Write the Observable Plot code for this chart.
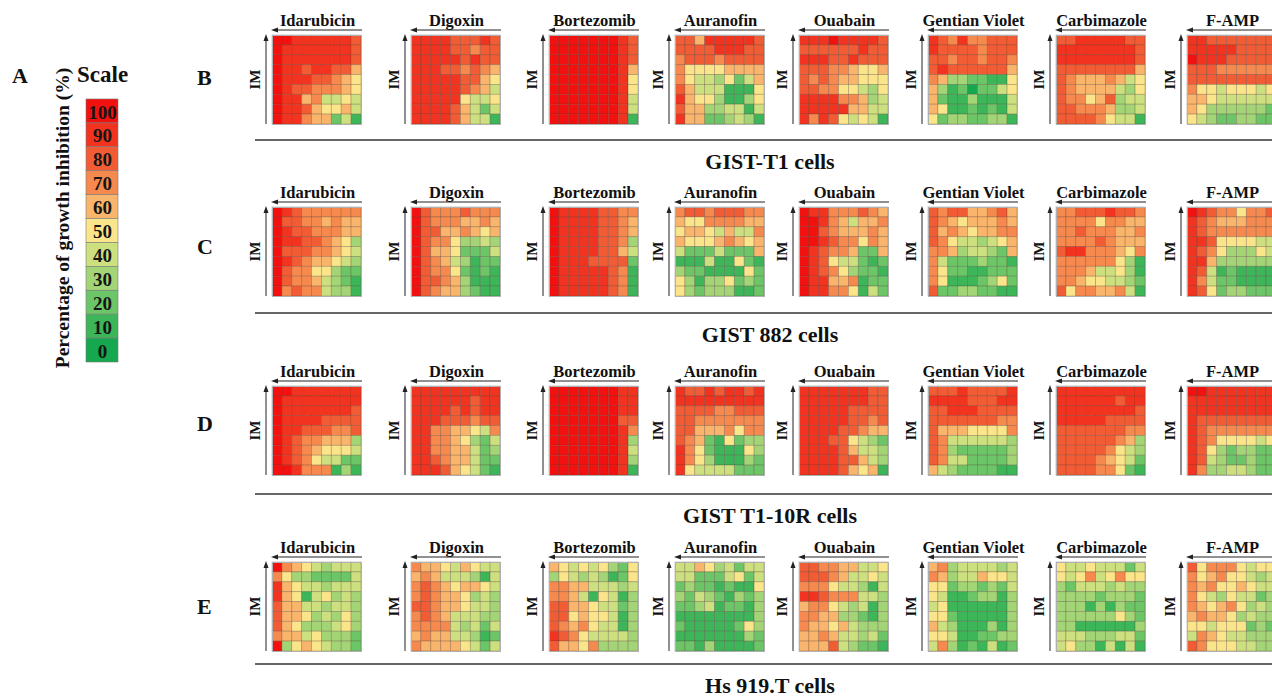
<!DOCTYPE html>
<html><head><meta charset="utf-8">
<script src="https://cdn.jsdelivr.net/npm/d3@7"></script>
<script src="https://cdn.jsdelivr.net/npm/@observablehq/plot@0.6"></script>
<style>
body{margin:0;background:#fff;}
#root{position:relative;width:1272px;height:696px;overflow:hidden;background:#fff;font-family:"Liberation Serif","Times New Roman",serif;}
#root > .abs{position:absolute;}
</style></head><body><div id="root"></div>
<script>
// ---------- data ----------
const drugs = ["Idarubicin","Digoxin","Bortezomib","Auranofin","Ouabain","Gentian Violet","Carbimazole","F-AMP"];
const cellLines = ["GIST-T1 cells","GIST 882 cells","GIST T1-10R cells","Hs 919.T cells"];
const panelLetters = ["B","C","D","E"];
const scaleLevels = [100,90,80,70,60,50,40,30,20,10,0];
const scaleColors = ["#f2110f","#f2331f","#f25c35","#f6894e","#f9b56b","#fbe58a","#cde080","#a3d577","#6cc667","#3db65a","#15a84f"];
// growth inhibition (%) / 10, 9 rows (top = highest IM) x 9 columns; "a" = 100
const gistT1 = [
"aa9999998 a99999998 a99999998 a99899886 a99988765 a98877765 a99674454 a99865564 a99766241",
"999988898 999988788 999998988 999887876 999998865 999998764 999995445 999986424 999986441",
"aaaaaaa98 aaaaaaa98 aaaaaaa98 aaaaaaa96 aaaaaaa95 aaaaaaa95 aaaaaaa94 aaaaaaa94 aaaaaaa91",
"886999998 888899988 788878888 755556666 754435246 864441115 965531135 866334414 966223431",
"999a99998 888888988 999889888 888776556 878766555 887755435 999977634 999996644 979854541",
"987977888 988887888 887887887 898888886 763322115 631202245 621131114 651121214 523322331",
"889999988 999999998 999999998 888888886 876667645 876666435 877568344 887776334 888875441",
"998888888 999998888 a99988888 888777777 888888888 755455545 665444444 653333332 543223322"
];
const gist882 = [
"a98777777 a88776766 a98877766 a99887653 a88877654 a98766543 a87755322 a87764321 a78774331",
"a87778777 a87776676 a88667656 a87753343 a86652224 a87643122 a87752121 a88763111 a87663211",
"a99998877 a99998876 a99998876 a99998873 a99998864 a99988882 a99999871 a99999871 a99999871",
"788788877 655777766 566546447 655567656 422242226 111411521 322111152 531335232 532333112",
"a99777876 aa9764667 aa8766676 aa9877576 a98776226 a98544212 a98753221 a99667122 a99775142",
"878866786 876566676 867656677 875443456 776344326 742223221 752211222 751112352 822332211",
"778889887 777757766 778777667 777787666 899777657 777777531 777644531 776554432 857766741",
"a98775778 987666777 987777777 998555544 987533354 996333333 984121111 974221111 985233222"
];
const gistT110R = [
"aa9999999 a99999999 a99999998 a99998888 a99888778 a98776663 a98765554 a98754422 aa9777131",
"999999999 999999899 999989899 999888788 997766547 997765324 997766423 998766422 999865421",
"aaaaaaa99 aaaaaaa99 aaaaaaa99 aaaaaaa88 aaaaaaa97 aaaaaaa93 aaaaaaa94 aaaaaaa93 aaaaaaa91",
"988989989 999999999 888877888 887777777 886667577 876215233 975211153 975311132 954444222",
"999999988 999999988 999998888 999998878 999988766 999885432 999986443 999988643 999986561",
"888988889 999988899 889998888 888888877 866655557 874444443 873222223 874422223 643222211",
"999999999 999999899 999999998 999998888 888888877 888888763 888887543 888876542 888877521",
"aa9999999 999999999 999999999 988888888 987777777 987555545 985323322 984322322 973344322"
];
const hs919T = [
"a76543444 753322224 965443444 965145343 866443443 866534353 865333453 766453332 a35654332",
"766546544 676444314 787656654 787665343 887665443 787644433 777743424 676644312 766665424",
"654545325 354343125 776644434 776415413 886654423 885655413 876754413 987544443 866573333",
"446534244 442224524 232212115 324321323 223412213 111111113 211111253 111111132 221311112",
"887766445 888764454 777544314 998777443 677543413 776633213 766564333 667644342 666843221",
"673444434 763446554 552332324 541123313 451111113 552111113 643111313 554112233 473121412",
"544544424 545745755 324443433 333323332 333131322 333333532 331111113 444333442 453314141",
"857775455 756755434 767556544 754354423 765675343 676653433 554555232 476544333 875554433"
];
const panels = [gistT1, gist882, gistT110R, hs919T];

// ---------- layout ----------
const L = {
  heatLeft: [272, 411, 549, 675, 799, 928, 1056, 1187],
  rowTop: [35, 207, 386, 562],
  size: 89,
  ruleY: [140, 313, 494, 664],
  letterY: [85, 254, 431, 614],
  font: '"Liberation Serif","Times New Roman",serif'
};

function parse(str){
  const out=[];
  str.split(" ").forEach((row,i)=>{
    [...row].forEach((ch,j)=>{
      out.push({row:i,col:j,value:(ch==="a"?10:+ch)*10});
    });
  });
  return out;
}

const root = document.getElementById("root");
const colorOpt = {type:"ordinal", domain: scaleLevels, range: scaleColors};

function place(el, left, top){
  el.classList.add("abs");
  el.style.left = left+"px"; el.style.top = top+"px";
  root.appendChild(el);
}

// heatmaps
panels.forEach((panel, r)=>{
  panel.forEach((str, d)=>{
    const cells = parse(str);
    const p = Plot.plot({
      width: L.size, height: L.size, margin: 0,
      style: {background:"none", overflow:"visible"},
      x: {type:"band", domain: d3.range(9), padding:0, round:false, axis:null},
      y: {type:"band", domain: d3.range(9), padding:0, round:false, axis:null},
      color: colorOpt,
      marks: [
        Plot.cell(cells, {x:"col", y:"row", fill:"value", inset:0, stroke:"#4a2a20", strokeOpacity:0.3, strokeWidth:0.8}),
        Plot.frame({stroke:"#b0b0b0", strokeWidth:1})
      ]
    });
    place(p, L.heatLeft[d], L.rowTop[r]);
  });
});

// scale legend
const leg = Plot.plot({
  width: 32, height: 263, margin: 0,
  style: {background:"none", overflow:"visible"},
  y: {type:"band", domain: scaleLevels, padding:0, round:false, axis:null},
  color: colorOpt,
  marks: [
    Plot.cell(scaleLevels, {y: d=>d, fill: d=>d, stroke:"#7a7a7a", strokeWidth:0.6, inset:0}),
    Plot.text(scaleLevels, {y: d=>d, text: d=>String(d), fontSize:19, fontWeight:"bold", fill:"#151515", fontFamily:L.font, dy:1})
  ]
});
place(leg, 86, 99);

// decorations
const svg = d3.create("svg").attr("width",1272).attr("height",696)
  .style("position","absolute").style("left","0px").style("top","0px").style("pointer-events","none")
  .style("font-family", L.font).style("font-weight","bold");

function txt(x,y,s,size,anchor="start",rot=0){
  const t = svg.append("text").attr("font-size",size).attr("fill","#111").attr("text-anchor",anchor).text(s);
  if(rot) t.attr("transform",`translate(${x},${y}) rotate(${rot})`).attr("dominant-baseline","central");
  else t.attr("x",x).attr("y",y);
  return t;
}
txt(12,83,"A",22);
txt(77,82,"Scale",23);
txt(62,218,"Percentage of growth inhibition (%)",19.5,"middle",-90);

const s = L.size;
L.rowTop.forEach((top,r)=>{
  txt(197, L.letterY[r], panelLetters[r], 22);
  svg.append("line").attr("x1",255).attr("x2",1272).attr("y1",L.ruleY[r]).attr("y2",L.ruleY[r]).attr("stroke","#333").attr("stroke-width",1.6);
  txt(770, L.ruleY[r]+28.5, cellLines[r], 22, "middle");
  L.heatLeft.forEach((left,d)=>{
    txt(left+s/2+1, top-9, drugs[d], 16.5, "middle");
    const ay = top-5;
    svg.append("line").attr("x1",left+3).attr("x2",left+s+1).attr("y1",ay).attr("y2",ay).attr("stroke","#222").attr("stroke-width",1);
    svg.append("path").attr("d",`M${left-1},${ay}L${left+6},${ay-2.5}L${left+6},${ay+2.5}Z`).attr("fill","#222");
    const ax = left-6;
    svg.append("line").attr("x1",ax).attr("x2",ax).attr("y1",top+s).attr("y2",top+4).attr("stroke","#222").attr("stroke-width",1);
    svg.append("path").attr("d",`M${ax},${top-1}L${ax-2.5},${top+6}L${ax+2.5},${top+6}Z`).attr("fill","#222");
    txt(left-17, top+s/2, "IM", 15, "middle", -90);
  });
});
root.appendChild(svg.node());
</script></body></html>
